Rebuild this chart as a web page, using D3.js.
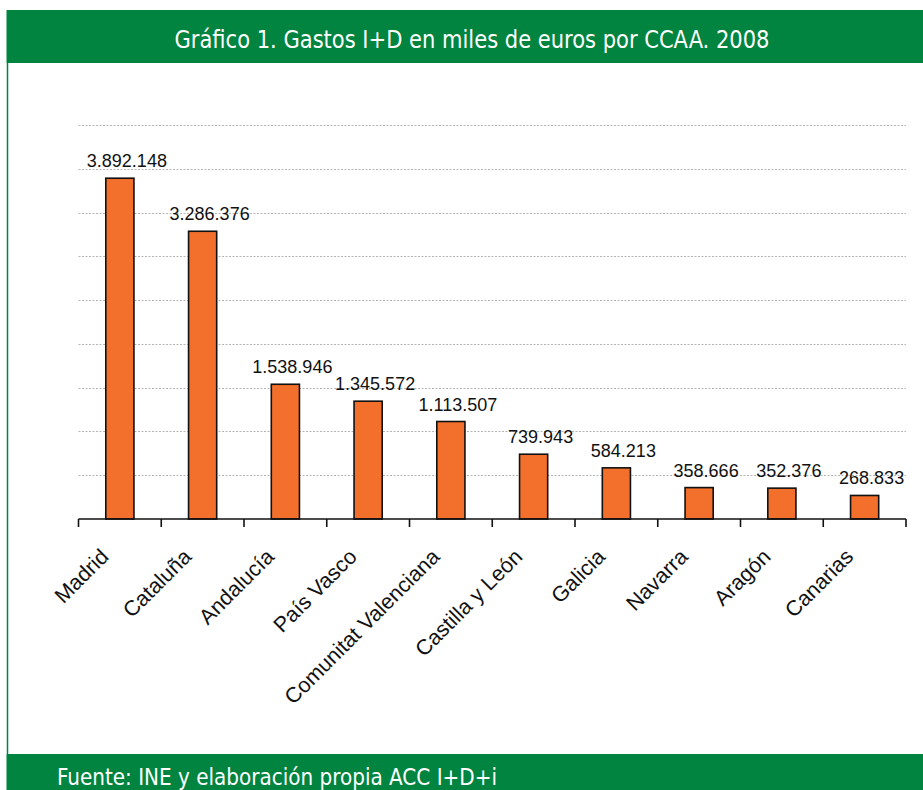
<!DOCTYPE html>
<html>
<head>
<meta charset="utf-8">
<script src="https://cdn.jsdelivr.net/npm/d3@7"></script>
<style>
  html, body { margin: 0; padding: 0; background: #fff; }
  svg { display: block; }
</style>
</head>
<body>
<div id="chart"></div>
<script>
const titleText = "Gráfico 1. Gastos I+D en miles de euros por CCAA. 2008";
const sourceText = "Fuente: INE y elaboración propia ACC I+D+i";
const categories = ["Madrid", "Cataluña", "Andalucía", "País Vasco", "Comunitat Valenciana",
  "Castilla y León", "Galicia", "Navarra", "Aragón", "Canarias"];
const values = [3892148, 3286376, 1538946, 1345572, 1113507, 739943, 584213, 358666, 352376, 268833];
const gridValues = [500000, 1000000, 1500000, 2000000, 2500000, 3000000, 3500000, 4000000, 4500000];

const W = 923, H = 790;
const green = "#00843f";
const orange = "#f36f2c";

const svg = d3.select("#chart").append("svg").attr("width", W).attr("height", H);
svg.append("rect").attr("width", W).attr("height", H).attr("fill", "#fff");

// header
svg.append("rect").attr("x", 6.5).attr("y", 10).attr("width", W - 6.5).attr("height", 53).attr("fill", green);
svg.append("text").attr("x", 472).attr("y", 47.5).attr("text-anchor", "middle")
  .attr("fill", "#fff").attr("font-family", "'DejaVu Sans Condensed','Liberation Sans Narrow',sans-serif")
  .attr("font-weight", 300)
  .attr("font-size", 25).attr("textLength", 595).attr("lengthAdjust", "spacingAndGlyphs")
  .text(titleText);

// left border
svg.append("line").attr("x1", 7.5).attr("x2", 7.5).attr("y1", 63).attr("y2", 754)
  .attr("stroke", green).attr("stroke-width", 1.5);

// footer
svg.append("rect").attr("x", 6.5).attr("y", 754).attr("width", W - 6.5).attr("height", H - 754).attr("fill", green);
svg.append("text").attr("x", 57).attr("y", 785).attr("fill", "#fff")
  .attr("font-family", "'DejaVu Sans Condensed','Liberation Sans Narrow',sans-serif")
  .attr("font-size", 23).attr("textLength", 440).attr("lengthAdjust", "spacingAndGlyphs")
  .text(sourceText);

// scales
const x0 = 78.5, x1 = 906, yBase = 519, yTop = 125;
const x = d3.scaleBand().domain(categories).range([x0, x1]).padding(0);
const y = d3.scaleLinear().domain([0, 4500000]).range([yBase, yTop]);

// gridlines
svg.append("g").selectAll("line").data(gridValues).join("line")
  .attr("x1", x0).attr("x2", x1)
  .attr("y1", d => Math.round(y(d)) + 0.5).attr("y2", d => Math.round(y(d)) + 0.5)
  .attr("stroke", "#b4b4b4").attr("stroke-width", 1).attr("stroke-dasharray", "2,1.5");

// bars
const bw = x.bandwidth() * 0.34;
svg.append("g").selectAll("rect").data(values).join("rect")
  .attr("x", (d, i) => x(categories[i]) + x.bandwidth() / 2 - bw / 2)
  .attr("y", d => y(d))
  .attr("width", bw)
  .attr("height", d => yBase - y(d))
  .attr("fill", orange).attr("stroke", "#111").attr("stroke-width", 1.6);

// value labels
const loc = d3.formatLocale({ decimal: ",", thousands: ".", grouping: [3], currency: ["", ""] });
const fmt = loc.format(",d");
svg.append("g").selectAll("text").data(values).join("text")
  .attr("x", (d, i) => x(categories[i]) + x.bandwidth() / 2 + 7)
  .attr("y", d => y(d) - 11)
  .attr("text-anchor", "middle")
  .attr("font-family", "'Liberation Sans',Arial,sans-serif").attr("font-size", 18).attr("fill", "#111")
  .text(d => fmt(d));

// x axis
const axis = svg.append("g").attr("transform", `translate(0,${yBase})`);
axis.append("line").attr("x1", x0).attr("x2", x1).attr("stroke", "#111").attr("stroke-width", 1.6);
const tickPos = categories.map(c => x(c)).concat([x1]);
axis.selectAll("line.tick").data(tickPos).join("line").attr("class", "tick")
  .attr("x1", d => d).attr("x2", d => d).attr("y1", 0).attr("y2", 8)
  .attr("stroke", "#111").attr("stroke-width", 1.6);

axis.selectAll("text").data(categories).join("text")
  .attr("transform", c => `translate(${x(c) + x.bandwidth() / 2 - 10},39) rotate(-45)`)
  .attr("text-anchor", "end")
  .attr("font-family", "'Liberation Sans',Arial,sans-serif").attr("font-size", 21.5).attr("fill", "#111")
  .text(c => c);
</script>
</body>
</html>
